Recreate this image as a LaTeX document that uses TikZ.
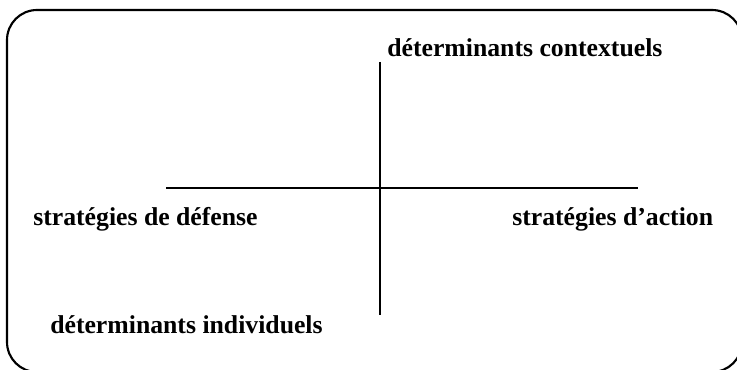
\documentclass[tikz,border=0pt]{standalone}
\usepackage{fontspec}
\setmainfont{Liberation Serif}
\usetikzlibrary{positioning}
\tikzset{
    lab/.style = {inner sep=0pt, anchor=base west, font=\fontsize{19.3}{23}\selectfont\bfseries},% the four labels
    axis/.style = {line width=1.6pt},
    frame/.style = {line width=1.6pt, rounded corners=22.5pt}
}
\begin{document}
\begin{tikzpicture}[x=0.75pt,y=-0.75pt]
    \useasboundingbox (0,0) rectangle (737,370);
    % frame, cut off at right and bottom
    \draw [frame] (7,10) rectangle (742,372);
    % the cross
    \coordinate (west) at (166,188);
    \coordinate (east) at (638,188);
    \coordinate (north) at (380,62);
    \coordinate (south) at (380,315);
    \draw [axis] (west) -- (east);
    \draw [axis] (north) -- (south);
    % labels
    \node [lab] (context) at (387,57) {déterminants contextuels};
    \node [lab] (defense) at (33,225) {stratégies de défense};
    \node [lab] (action) at (512,225) {stratégies d’action};
    \node [lab] (indiv) at (50,333) {déterminants individuels};
\end{tikzpicture}
\end{document}
